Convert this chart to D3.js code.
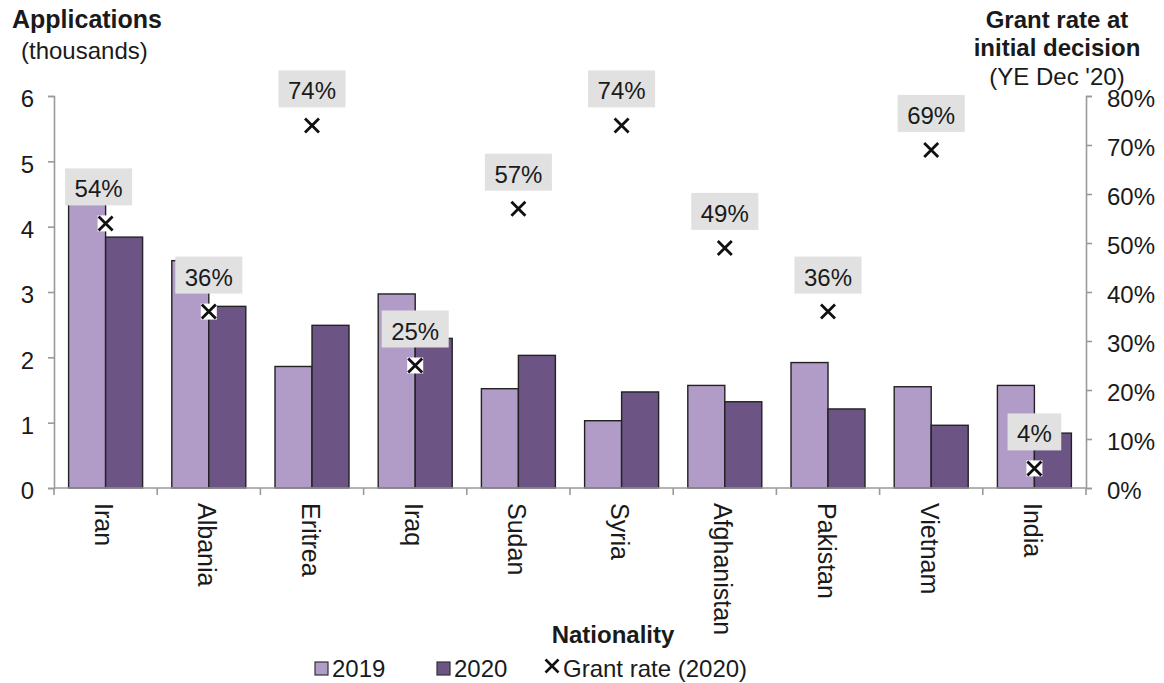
<!DOCTYPE html>
<html>
<head>
<meta charset="utf-8">
<script src="https://cdn.jsdelivr.net/npm/d3@7"></script>
<style>
  html, body { margin: 0; padding: 0; background: #fff; }
  svg { display: block; font-family: "Liberation Sans", Arial, sans-serif; }
</style>
</head>
<body>
<svg id="chart" width="1164" height="683"></svg>
<script>
// Asylum applications (thousands) by nationality, with the 2020 grant rate
const categories = ["Iran", "Albania", "Eritrea", "Iraq", "Sudan", "Syria", "Afghanistan", "Pakistan", "Vietnam", "India"];
const apps2019 = [4.45, 3.48, 1.86, 2.97, 1.52, 1.03, 1.57, 1.92, 1.55, 1.57];
const apps2020 = [3.84, 2.78, 2.49, 2.29, 2.03, 1.47, 1.32, 1.21, 0.96, 0.84];
const grantRate = [0.54, 0.36, 0.74, 0.25, 0.57, 0.74, 0.49, 0.36, 0.69, 0.04];
const leftTicks = [0, 1, 2, 3, 4, 5, 6];
const rightTicks = [0, 0.1, 0.2, 0.3, 0.4, 0.5, 0.6, 0.7, 0.8];
const seriesNames = ["2019", "2020"];

const col2019 = "#b09cc6";
const col2020 = "#6c5585";
const axisCol = "#9a9a9a";
const ink = "#1a1a1a";

const svg = d3.select("#chart");
const plotLeft = 54, plotRight = 1086, plotTop = 96, plotBottom = 488;

const x = d3.scaleBand().domain(categories).range([plotLeft, plotRight])
  .paddingInner(0.283).paddingOuter(0.1415);
const xs = d3.scaleBand().domain(seriesNames).range([0, x.bandwidth()]);
const y = d3.scaleLinear().domain([0, 6]).range([plotBottom, plotTop]);
const yr = d3.scaleLinear().domain([0, 0.8]).range([plotBottom, plotTop]);

// Bars
const rows = categories.map((c, i) => ({ c, v: [apps2019[i], apps2020[i]] }));
const g = svg.append("g");
rows.forEach(r => {
  [0, 1].forEach(k => {
    g.append("rect")
      .attr("x", x(r.c) + xs(seriesNames[k]))
      .attr("y", y(r.v[k]))
      .attr("width", xs.bandwidth())
      .attr("height", y(0) - y(r.v[k]))
      .attr("fill", k === 0 ? col2019 : col2020)
      .attr("stroke", "#222")
      .attr("stroke-width", 1.4);
  });
});

// Axes
const yAxis = d3.axisLeft(y).tickValues(leftTicks).tickSize(6).tickPadding(14).tickFormat(d3.format("d"));
const yrAxis = d3.axisRight(yr).tickValues(rightTicks).tickSize(6).tickPadding(15).tickFormat(d3.format(".0%"));

function styleAxis(sel) {
  sel.select(".domain").attr("stroke", axisCol).attr("stroke-width", 1.6);
  sel.selectAll(".tick line").attr("stroke", axisCol).attr("stroke-width", 1.6);
  sel.selectAll(".tick text").attr("fill", ink).attr("font-size", 24)
    .attr("font-family", "Liberation Sans, Arial, sans-serif").attr("dy", "0.45em");
}
svg.append("g").attr("transform", `translate(${plotLeft},0)`).call(yAxis).call(styleAxis);
svg.append("g").attr("transform", `translate(${plotRight},0)`).call(yrAxis).call(styleAxis);

// Category axis with boundary ticks
const bottomAxis = svg.append("g");
bottomAxis.append("line").attr("x1", plotLeft).attr("x2", plotRight).attr("y1", plotBottom).attr("y2", plotBottom)
  .attr("stroke", axisCol).attr("stroke-width", 1.6);
const step = x.step();
d3.range(categories.length + 1).forEach(i => {
  const bx = plotLeft + i * step;
  bottomAxis.append("line").attr("x1", bx).attr("x2", bx).attr("y1", plotBottom).attr("y2", plotBottom + 7)
    .attr("stroke", axisCol).attr("stroke-width", 1.6);
});
categories.forEach(c => {
  const cx = x(c) + x.bandwidth() / 2;
  bottomAxis.append("text")
    .attr("transform", `translate(${cx},${plotBottom + 15}) rotate(90)`)
    .attr("dy", "0.42em")
    .attr("font-size", 25).attr("fill", ink)
    .text(c);
});

// Grant-rate markers with value labels
const labelShift = { Iran: -7 };
const mk = svg.append("g");
categories.forEach((c, i) => {
  const cx = x(c) + x.bandwidth() / 2;
  const cy = yr(grantRate[i]);
  mk.append("rect").attr("x", cx - 8).attr("y", cy - 8).attr("width", 16).attr("height", 16).attr("fill", "#fff");
  const s = 7;
  mk.append("path")
    .attr("d", `M${cx - s},${cy - s}L${cx + s},${cy + s}M${cx - s},${cy + s}L${cx + s},${cy - s}`)
    .attr("stroke", "#111").attr("stroke-width", 2.8).attr("fill", "none");

  const lx = cx + (labelShift[c] || 0);
  const txt = d3.format(".0%")(grantRate[i]);
  const t = mk.append("text").attr("x", lx).attr("y", cy - 26)
    .attr("text-anchor", "middle").attr("font-size", 24).attr("fill", ink).text(txt);
  const w = t.node().getComputedTextLength() + 19;
  mk.insert("rect", function () { return t.node(); })
    .attr("x", lx - w / 2).attr("y", cy - 55).attr("width", w).attr("height", 37)
    .attr("fill", "#e1e1e1");
});

// Axis titles
const titles = svg.append("g").attr("fill", ink);
titles.append("text").attr("x", 12).attr("y", 28).attr("font-size", 25).attr("font-weight", "bold").text("Applications");
titles.append("text").attr("x", 21).attr("y", 59).attr("font-size", 24).text("(thousands)");
titles.append("text").attr("x", 1057).attr("y", 28).attr("font-size", 24).attr("font-weight", "bold").attr("text-anchor", "middle").text("Grant rate at");
titles.append("text").attr("x", 1057).attr("y", 56).attr("font-size", 24).attr("font-weight", "bold").attr("text-anchor", "middle").text("initial decision");
titles.append("text").attr("x", 1057).attr("y", 85).attr("font-size", 24).attr("text-anchor", "middle").text("(YE Dec '20)");
titles.append("text").attr("x", 613).attr("y", 643).attr("font-size", 24).attr("font-weight", "bold").attr("text-anchor", "middle").text("Nationality");

// Legend
const lg = svg.append("g");
const legY = 677;
[[315, col2019, "2019"], [437, col2020, "2020"]].forEach(([lx, fill, label]) => {
  lg.append("rect").attr("x", lx).attr("y", legY - 15).attr("width", 13).attr("height", 13)
    .attr("fill", fill).attr("stroke", "#333").attr("stroke-width", 1.2);
  lg.append("text").attr("x", lx + 17).attr("y", legY).attr("font-size", 24).attr("fill", ink).text(label);
});
const mx = 552, my = legY - 11, ms = 6.5;
lg.append("path").attr("d", `M${mx - ms},${my - ms}L${mx + ms},${my + ms}M${mx - ms},${my + ms}L${mx + ms},${my - ms}`)
  .attr("stroke", "#111").attr("stroke-width", 2.6);
lg.append("text").attr("x", 563).attr("y", legY).attr("font-size", 24).attr("fill", ink).text("Grant rate (2020)");
</script>
</body>
</html>
